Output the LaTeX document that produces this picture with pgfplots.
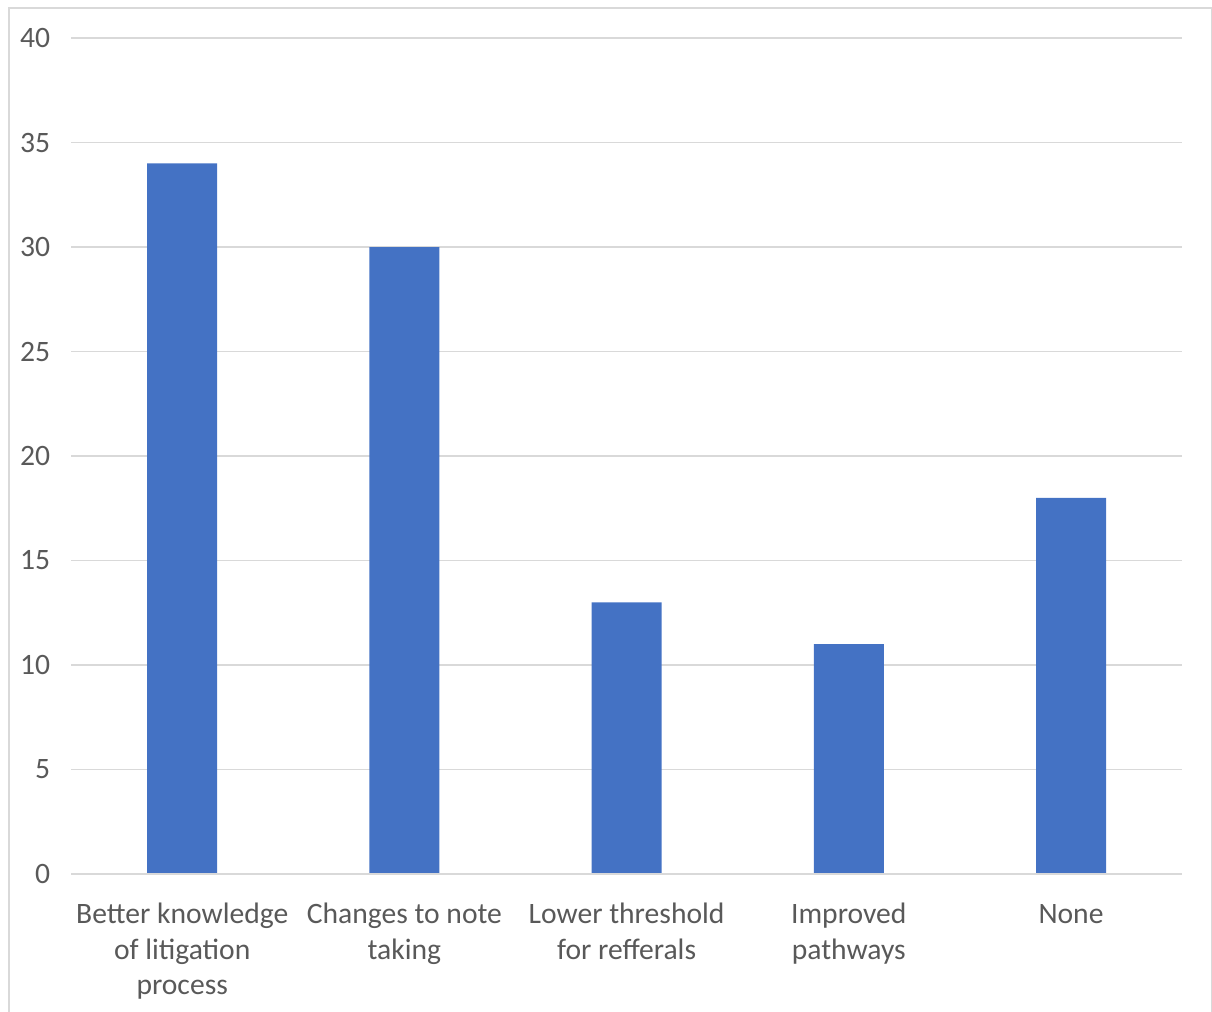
\documentclass[border=0pt]{standalone}
\usepackage{pgfplots}
\pgfplotsset{compat=1.18}
\usepackage{fontspec}
\setmainfont{Carlito}
\definecolor{barblue}{HTML}{4472C4}
\definecolor{gridgray}{HTML}{D9D9D9}
\definecolor{labelgray}{HTML}{595959}
\definecolor{framegray}{HTML}{D9D9D9}
\begin{document}
\begin{tikzpicture}[x=1pt,y=1pt]
\useasboundingbox (0,0) rectangle (606,506);
% chart frame
\draw[framegray, line width=0.6pt] (4.5,-20) rectangle (605.6,502);
\begin{axis}[
  at={(32,66)}, anchor=south west,
  scale only axis, width=555.5pt, height=418pt,
  ybar, bar width=35pt,
  xmin=-0.5, xmax=4.5, ymin=0, ymax=40,
  ytick={0,5,...,40},
  xtick=data,
  xticklabels={{\strut Better knowledge\\of litigation\\process},{\strut Changes to note\\taking},{\strut Lower threshold\\for refferals},{\strut Improved\\pathways},{\strut None}},
  axis line style={draw=none},
  major tick length=0pt,
  ymajorgrids, grid style={gridgray, line width=0.8pt},
  tick label style={labelgray, font=\fontsize{14.8}{17.75}\selectfont},
  xticklabel style={align=center, yshift=-9pt},
  yticklabel style={xshift=-7pt},
  /pgf/number format/assume math mode=true,
  clip=false,
]
\addplot[fill=barblue, draw=none] coordinates {(0,34) (1,30) (2,13) (3,11) (4,18)};
\draw[gridgray, line width=0.8pt] (axis cs:-0.5,0) -- (axis cs:4.5,0);
\end{axis}
\end{tikzpicture}
\end{document}
